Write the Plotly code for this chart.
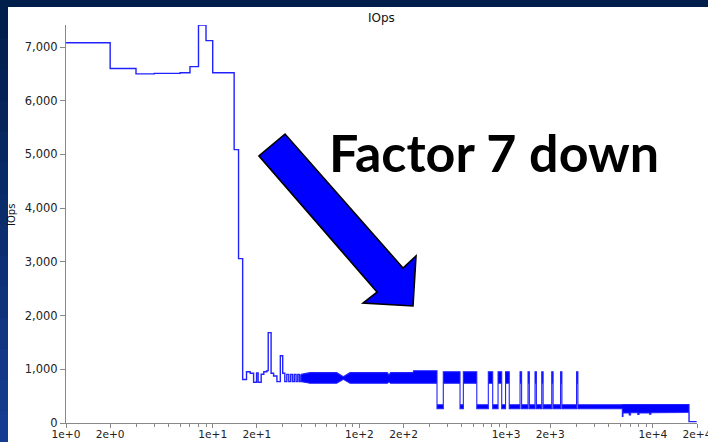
import math
import plotly.graph_objects as go

# ---------------- data ----------------
# early region: one reading per step (x = start of step), drawn as steps
step_x = [1, 2, 3, 4, 6, 7, 8, 9, 10, 14, 15, 16, 17, 18, 19, 19.9, 20.4, 21.4,
          22.3, 23.4, 23.9, 25, 26, 27.4, 28.9, 30,
          31, 32, 33, 34, 35, 36, 37, 38, 39, 40]
step_iops = [7080, 6600, 6500, 6510, 6520, 6635, 7410, 7120, 6520, 5090, 3060, 810,
             955, 925, 758, 930, 758, 907, 955, 975, 1682, 925, 875, 770, 1253, 925,
             770, 905, 770, 905, 770, 905, 770, 905, 770, 905]

# dense oscillating band (envelope of the fast alternation)
band_x = [40, 46, 70, 77.7, 86.3, 155, 159, 163, 232, 234, 338]
band_hi = [905, 937, 937, 862, 937, 937, 894, 937, 937, 974, 974]
band_lo = [770, 739, 739, 814, 739, 739, 769, 739, 739, 739, 739]

# burst / tail region: segments with low and high envelope
seg_x0 = [338, 373, 485, 511, 631, 756, 810, 881, 933, 991, 1050, 1244, 1275,
          1410, 1440, 1574, 1608, 1749, 1787, 2046, 2090, 2350, 2400, 3020, 3085,
          6194, 6260, 6900, 7050, 7900, 8050, 9500, 9700, 12000]
seg_x1 = seg_x0[1:] + [17650]
seg_lo = [265, 739, 265, 739, 265, 739, 265, 739, 265, 739, 265, 739, 265,
          739, 265, 739, 265, 739, 265, 739, 265, 739, 265, 739, 265,
          120, 185, 150, 190, 160, 185, 165, 190, 195]
seg_hi = [340, 955, 340, 955, 340, 955, 340, 955, 340, 955, 340, 955, 340,
          955, 340, 955, 340, 955, 340, 955, 340, 955, 340, 955, 340,
          345, 345, 345, 345, 345, 345, 345, 345, 345]

# final low tail
tail_x = [17650, 19900]
tail_iops = [25, 25]

x_tick_vals = [1, 2, 10, 20, 100, 200, 1000, 2000, 10000, 20000]
x_tick_text = ["1e+0", "2e+0", "1e+1", "2e+1", "1e+2", "2e+2", "1e+3", "2e+3", "1e+4", "2e+4"]
x_minor_vals = [m * 10 ** k for k in range(4) for m in (3, 4, 5, 6, 7, 8, 9)]
y_tick_vals = [0, 1000, 2000, 3000, 4000, 5000, 6000, 7000]
y_tick_text = ["0", "1,000", "2,000", "3,000", "4,000", "5,000", "6,000", "7,000"]

# ---------------- build ----------------
LINE = "#2222ff"
FILL = "#0000ff"

up_x = list(band_x)
up_y = list(band_hi)
lo_x = list(band_x)
lo_y = list(band_lo)
for a, b, lo, hi in zip(seg_x0, seg_x1, seg_lo, seg_hi):
    up_x += [a, b]
    up_y += [hi, hi]
    lo_x += [a, b]
    lo_y += [lo, lo]
poly_x = up_x + lo_x[::-1] + [up_x[0]]
poly_y = up_y + lo_y[::-1] + [up_y[0]]

fig = go.Figure()
fig.add_trace(go.Scatter(x=step_x, y=step_iops, mode="lines", line=dict(color=LINE, width=1.4, shape="hv"),
                         hoverinfo="skip", showlegend=False))
fig.add_trace(go.Scatter(x=poly_x, y=poly_y, mode="lines", fill="toself", fillcolor=FILL,
                         line=dict(color=LINE, width=1.1), hoverinfo="skip", showlegend=False))
fig.add_trace(go.Scatter(x=[tail_x[0]] + tail_x, y=[seg_lo[-1]] + tail_iops, mode="lines",
                         line=dict(color=LINE, width=1.4), hoverinfo="skip", showlegend=False))

L, R, T, B = 66, 11, 25, 19
W, H = 708, 442
pw, ph = W - L - R, H - T - B


def px(xp):
    return (xp - L) / pw


def py(yp):
    return (H - B - yp) / ph


shapes = []
# white slide area
shapes.append(dict(type="rect", xref="paper", yref="paper", x0=px(8), x1=px(W + 5), y0=py(H + 5), y1=py(7),
                   fillcolor="white", line=dict(width=0), layer="below"))
# left gradient strip
n = 14
c0 = (0, 30, 75)
c1 = (22, 60, 145)
for i in range(n):
    t = i / (n - 1)
    col = "rgb(%d,%d,%d)" % tuple(int(round(c0[k] + (c1[k] - c0[k]) * t)) for k in range(3))
    ya = 7 + (H - 7) * i / n
    yb = 7 + (H - 7) * (i + 1) / n
    shapes.append(dict(type="rect", xref="paper", yref="paper", x0=px(-2), x1=px(8), y0=py(yb + 1), y1=py(ya),
                       fillcolor=col, line=dict(width=0), layer="below"))

# big arrow
arrow = [(259, 156), (285, 134), (403, 268), (416, 256), (413, 306), (363, 303), (377, 292)]
path = "M " + " L ".join("%.4f,%.4f" % (px(a), py(b)) for a, b in arrow) + " Z"
shapes.append(dict(type="path", xref="paper", yref="paper", path=path, fillcolor="#0000ff",
                   line=dict(color="black", width=1.6), layer="above"))

annotations = [
    dict(text="IOps", x=0.5, y=py(18), xref="paper", yref="paper", showarrow=False,
         xanchor="center", yanchor="middle", font=dict(family="DejaVu Sans", size=12, color="#111")),
    dict(text="IOps", x=px(12), y=py(215), xref="paper", yref="paper", showarrow=False, textangle=-90,
         xanchor="center", yanchor="middle", font=dict(family="DejaVu Sans", size=10, color="#111")),
    dict(text="Factor 7 down", x=px(494), y=py(152), xref="paper", yref="paper", showarrow=False,
         xanchor="center", yanchor="middle",
         font=dict(family="Lato", size=52, color="black", weight="bold")),
]

fig.update_layout(
    width=W, height=H,
    margin=dict(l=L, r=R, t=T, b=B, pad=0, autoexpand=False),
    paper_bgcolor="rgb(0,30,75)",
    plot_bgcolor="white",
    shapes=shapes,
    annotations=annotations,
    showlegend=False,
    xaxis=dict(type="log", range=[0, math.log10(20000)], tickmode="array", tickvals=x_tick_vals,
               ticktext=x_tick_text, ticks="outside", ticklen=4, tickcolor="#888", showline=True,
               linecolor="#888", linewidth=1, showgrid=False, zeroline=False,
               tickfont=dict(family="DejaVu Sans", size=10.6, color="#222"),
               ticklabelstandoff=-3, ticklabeloverflow="allow",
               automargin=False,
               minor=dict(tickmode="array", tickvals=x_minor_vals, ticks="outside", ticklen=3,
                          tickcolor="#888", showgrid=False)),
    yaxis=dict(range=[0, 7410], tickmode="array", tickvals=y_tick_vals, ticktext=y_tick_text,
               ticks="outside", ticklen=5, tickcolor="#888", showline=True, linecolor="#888",
               linewidth=1, showgrid=False, zeroline=False,
               tickfont=dict(family="DejaVu Sans", size=11.5, color="#222"), automargin=False),
)

fig.write_html("out.html", config={"displayModeBar": False},
               post_script="document.body.style.margin='0';document.body.style.padding='0';"
                           "document.body.style.background='white';")
